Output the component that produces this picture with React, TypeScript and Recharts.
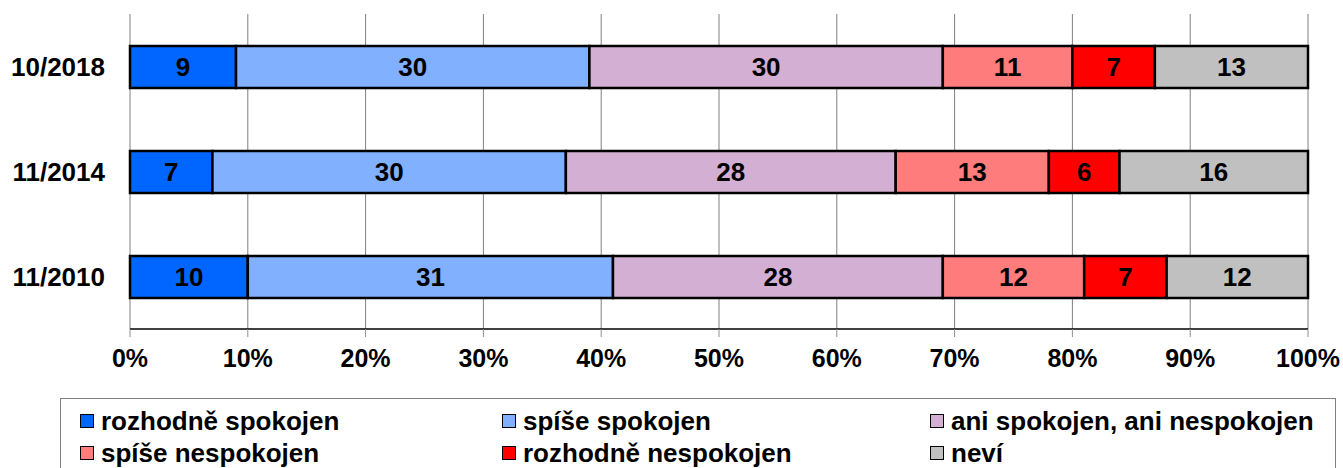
import React from 'react';
import { BarChart, Bar, XAxis, YAxis, CartesianGrid, Legend, LabelList } from 'recharts';

const categories = ['10/2018', '11/2014', '11/2010'];
const seriesNames = [
  'rozhodně spokojen',
  'spíše spokojen',
  'ani spokojen, ani nespokojen',
  'spíše nespokojen',
  'rozhodně nespokojen',
  'neví',
];
const rozhodneSpokojen = [9, 7, 10];
const spiseSpokojen = [30, 30, 31];
const aniAni = [30, 28, 28];
const spiseNespokojen = [11, 13, 12];
const rozhodneNespokojen = [7, 6, 7];
const nevi = [13, 16, 12];
const xTicks = [0, 10, 20, 30, 40, 50, 60, 70, 80, 90, 100];
const colors = ['#0066FF', '#80B0FF', '#D3AFD3', '#FF7C7C', '#FF0000', '#C0C0C0'];

const seriesValues = [rozhodneSpokojen, spiseSpokojen, aniAni, spiseNespokojen, rozhodneNespokojen, nevi];
const keys = ['s0', 's1', 's2', 's3', 's4', 's5'];

const data = categories.map((c, i) => {
  const row: any = { name: c };
  keys.forEach((k, j) => {
    row[k] = seriesValues[j][i];
  });
  return row;
});

const FONT = '"Liberation Sans", Arial, sans-serif';

const legendColumns = [0, 422, 850];

const LegendContent = () => (
  <div
    style={{
      position: 'relative',
      width: 1276,
      height: 90,
      border: '1px solid #808080',
      boxSizing: 'border-box',
      fontFamily: FONT,
      fontWeight: 'bold',
      fontSize: 26,
      color: '#000',
    }}
  >
    {seriesNames.map((n, i) => {
      const col = i % 3;
      const row = Math.floor(i / 3);
      return (
        <div
          key={n}
          style={{
            position: 'absolute',
            left: 19 + legendColumns[col],
            top: 6 + row * 32,
            height: 32,
            display: 'flex',
            alignItems: 'center',
            whiteSpace: 'nowrap',
          }}
        >
          <span
            style={{
              display: 'inline-block',
              width: 12,
              height: 12,
              background: colors[i],
              border: '1.5px solid #000',
              marginRight: 7,
            }}
          />
          <span style={{ lineHeight: '32px' }}>{n}</span>
        </div>
      );
    })}
  </div>
);

export default function App() {
  return (
    <div style={{ position: 'absolute', left: 0, top: 0, width: 1343, height: 468, background: '#fff', overflow: 'hidden' }}>
      <BarChart
        width={1343}
        height={468}
        data={data}
        layout="vertical"
        margin={{ top: 14, right: 35, left: 0, bottom: 79 }}
        barSize={42}
      >
        <CartesianGrid vertical={true} horizontal={false} stroke="#808080" strokeWidth={1} />
        <XAxis
          type="number"
          domain={[0, 100]}
          ticks={xTicks}
          tickFormatter={(v: number) => `${v}%`}
          height={60}
          axisLine={{ stroke: '#000', strokeWidth: 1.5 }}
          tickLine={{ stroke: '#909090' }}
          tickSize={8}
          tickMargin={12}
          interval={0}
          tick={{ fill: '#000', fontSize: 25, fontWeight: 'bold', fontFamily: FONT }}
        />
        <YAxis
          yAxisId="bounds"
          type="number"
          domain={[0, 3]}
          ticks={[0, 1, 2, 3]}
          allowDataOverflow
          width={0}
          tick={false}
          tickSize={9}
          axisLine={{ stroke: '#000', strokeWidth: 1.5 }}
          tickLine={{ stroke: '#909090' }}
        />
        <YAxis
          type="category"
          dataKey="name"
          width={130}
          axisLine={false}
          tickLine={false}
          tickSize={0}
          tickMargin={25}
          tick={{ fill: '#000', fontSize: 26, fontWeight: 'bold', fontFamily: FONT }}
        />
        {keys.map((k, i) => (
          <Bar
            key={k}
            dataKey={k}
            name={seriesNames[i]}
            stackId="a"
            fill={colors[i]}
            stroke="#000"
            strokeWidth={2.5}
            isAnimationActive={false}
          >
            <LabelList
              dataKey={k}
              position="center"
              fill="#000"
              style={{ fontSize: 26, fontWeight: 'bold', fontFamily: FONT }}
            />
          </Bar>
        ))}
        <Legend
          layout="horizontal"
          verticalAlign="middle"
          align="center"
          content={<LegendContent />}
          wrapperStyle={{ position: 'absolute', left: 60, top: 398, width: 1276, height: 90 }}
        />
      </BarChart>
    </div>
  );
}
